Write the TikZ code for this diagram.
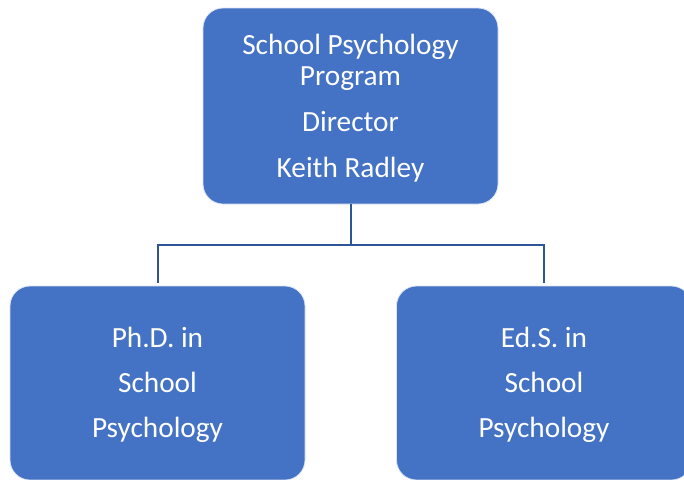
\documentclass[tikz,border=0pt]{standalone}
\usepackage{fontspec}
\setmainfont{Carlito}
\definecolor{boxblue}{HTML}{4472C4}
\definecolor{lineblue}{HTML}{2F5597}
\begin{document}
\begin{tikzpicture}[x=1pt,y=-1pt,
  box/.style={draw=white!80!boxblue, line width=0.8pt, fill=boxblue, rounded corners=20pt,
    minimum width=295pt, minimum height=196pt, inner sep=0pt},
  txt/.style={text=white, anchor=base, inner sep=0pt, font=\fontsize{29.3}{34}\selectfont},
  conn/.style={draw=lineblue, line width=2pt}]
\useasboundingbox (0,0) rectangle (684,479);
\node[box] (top) at (350.5,106) {};
\node[box, minimum height=194pt] (left) at (157.5,383) {};
\node[box, minimum height=194pt] (right) at (544,383) {};
\node[txt] (t1) at (350.5,54) {School Psychology};
\node[txt] (t2) at (350.5,85) {Program};
\node[txt] (t3) at (350.5,131) {Director};
\node[txt] (t4) at (350.5,177) {Keith Radley};
\node[txt] (l1) at (157.5,347) {Ph.D. in};
\node[txt] (l2) at (157.5,392) {School};
\node[txt] (l3) at (157.5,437) {Psychology};
\node[txt] (r1) at (544,347) {Ed.S. in};
\node[txt] (r2) at (544,392) {School};
\node[txt] (r3) at (544,437) {Psychology};
\coordinate (mid) at (350.5,245);
\draw[conn] (top.south) -- (mid);
\draw[conn, shorten >=3pt] (mid) -| (left.north);
\draw[conn, shorten >=3pt] (mid) -| (right.north);
\end{tikzpicture}
\end{document}
